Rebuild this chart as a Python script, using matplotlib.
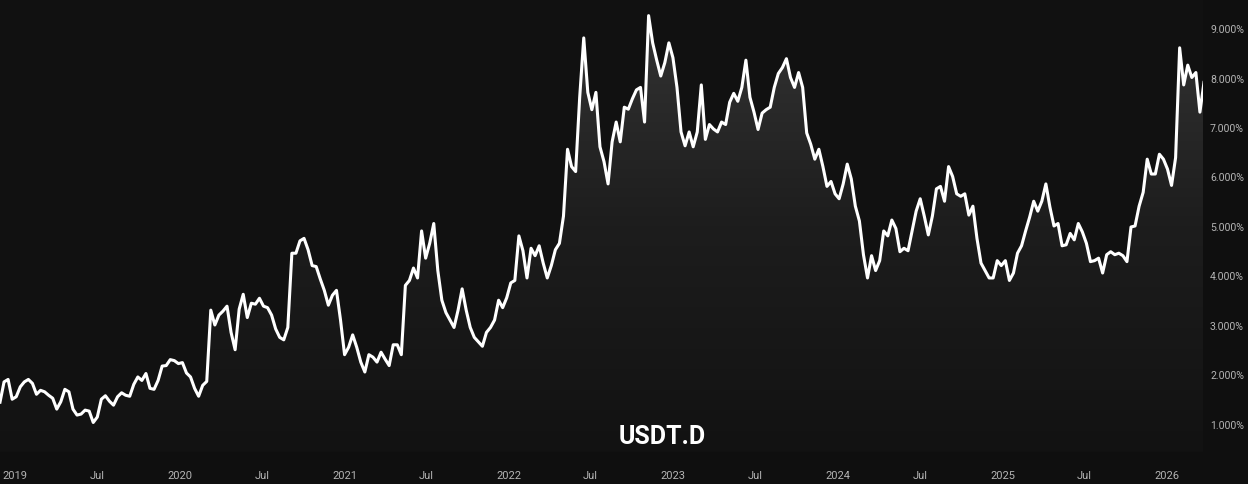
import numpy as np
import pandas as pd
import matplotlib
matplotlib.use("Agg")
import matplotlib.pyplot as plt
import matplotlib.dates as mdates
from matplotlib.colors import LinearSegmentedColormap
from matplotlib.ticker import FixedLocator, FuncFormatter

# USDT dominance (%), one reading every 9 days from 2018-11-28
start_date = "2018-11-28"
step = "9D"
usdt_d = [
    1.44, 1.85, 1.90, 1.50, 1.55, 1.75, 1.85, 1.90, 1.82, 1.60,
    1.68, 1.65, 1.58, 1.52, 1.30, 1.45, 1.70, 1.65, 1.30, 1.18,
    1.20, 1.28, 1.26, 1.03, 1.14, 1.50, 1.57, 1.46, 1.38, 1.55,
    1.63, 1.58, 1.56, 1.80, 1.95, 1.88, 2.02, 1.72, 1.70, 1.88,
    2.17, 2.18, 2.30, 2.28, 2.22, 2.24, 2.03, 1.95, 1.72, 1.56,
    1.78, 1.86, 3.30, 3.00, 3.20, 3.28, 3.38, 2.85, 2.50, 3.32,
    3.62, 3.15, 3.44, 3.42, 3.54, 3.38, 3.35, 3.20, 2.92, 2.75,
    2.70, 2.95, 4.45, 4.45, 4.70, 4.75, 4.52, 4.20, 4.18, 3.93,
    3.70, 3.40, 3.60, 3.70, 3.10, 2.40, 2.55, 2.80, 2.55, 2.25,
    2.05, 2.40, 2.35, 2.25, 2.45, 2.31, 2.18, 2.60, 2.60, 2.40,
    3.80, 3.90, 4.15, 3.95, 4.90, 4.35, 4.65, 5.05, 4.10, 3.50,
    3.25, 3.10, 2.95, 3.30, 3.73, 3.30, 2.95, 2.75, 2.66, 2.57,
    2.85, 2.95, 3.10, 3.50, 3.35, 3.55, 3.85, 3.90, 4.80, 4.50,
    3.95, 4.55, 4.40, 4.60, 4.25, 3.95, 4.20, 4.52, 4.65, 5.20,
    6.55, 6.20, 6.10, 7.60, 8.80, 7.70, 7.35, 7.70, 6.60, 6.30,
    5.85, 6.70, 7.10, 6.70, 7.40, 7.36, 7.57, 7.75, 7.80, 7.10,
    9.25, 8.70, 8.35, 8.03, 8.30, 8.70, 8.40, 7.80, 6.90, 6.62,
    6.90, 6.60, 6.90, 7.85, 6.75, 7.05, 6.96, 6.90, 7.10, 7.05,
    7.50, 7.68, 7.52, 7.80, 8.35, 7.60, 7.30, 6.95, 7.28, 7.35,
    7.40, 7.80, 8.08, 8.20, 8.38, 8.00, 7.80, 8.10, 7.80, 6.88,
    6.65, 6.35, 6.55, 6.20, 5.80, 5.90, 5.65, 5.55, 5.85, 6.25,
    5.95, 5.40, 5.10, 4.42, 3.95, 4.40, 4.10, 4.30, 4.90, 4.80,
    5.12, 4.95, 4.48, 4.55, 4.50, 4.90, 5.30, 5.55, 5.20, 4.82,
    5.20, 5.75, 5.80, 5.50, 6.20, 6.00, 5.65, 5.60, 5.65, 5.22,
    5.40, 4.75, 4.25, 4.10, 3.95, 3.95, 4.30, 4.20, 4.30, 3.90,
    4.05, 4.45, 4.60, 4.90, 5.18, 5.50, 5.30, 5.50, 5.85, 5.38,
    5.00, 5.05, 4.60, 4.62, 4.85, 4.72, 5.05, 4.88, 4.65, 4.28,
    4.30, 4.35, 4.05, 4.42, 4.48, 4.42, 4.45, 4.40, 4.28, 4.98,
    5.00, 5.40, 5.68, 6.35, 6.05, 6.05, 6.45, 6.35, 6.15, 5.82,
    6.38, 8.60, 7.85, 8.25, 8.00, 8.10, 7.30, 7.90,
]
dates = pd.date_range(start_date, periods=len(usdt_d), freq=step)

x_min, x_max = pd.Timestamp("2018-11-28"), pd.Timestamp("2026-03-22")
y_min, y_max = 0.434, 9.586
y_ticks = [1, 2, 3, 4, 5, 6, 7, 8, 9]
x_ticks = [pd.Timestamp(f"{yr}-{m:02d}-01") for yr in range(2019, 2027) for m in (1, 7)
           if pd.Timestamp(f"{yr}-{m:02d}-01") <= x_max]

bg = "#0f0f0f"
fig = plt.figure(figsize=(12.48, 4.85), dpi=100, facecolor=bg)
ax = fig.add_axes([0, 0.066, 0.964, 0.934])
ax.set_facecolor("#111111")

# gradient area under the line
poly = ax.fill_between(dates, usdt_d, y_min, color="none", lw=0)
cmap = LinearSegmentedColormap.from_list("fade", ["#121212", "#1d1d1d", "#353535"])
grad = np.linspace(0, 1, 256).reshape(-1, 1)
im = ax.imshow(grad, extent=[mdates.date2num(x_min), mdates.date2num(x_max), y_min, y_max],
               origin="lower", aspect="auto", cmap=cmap, zorder=1)
im.set_clip_path(poly.get_paths()[0], ax.transData)

ax.plot(dates, usdt_d, color="white", lw=2.2, zorder=3)

ax.set_xlim(x_min, x_max)
ax.set_ylim(y_min, y_max)
for s in ax.spines.values():
    s.set_visible(False)

ax.xaxis.set_major_locator(FixedLocator(mdates.date2num(x_ticks)))
ax.xaxis.set_major_formatter(FuncFormatter(
    lambda v, p: (lambda d: str(d.year) if d.month == 1 else "Jul")(mdates.num2date(v))))
ax.yaxis.tick_right()
ax.set_yticks(y_ticks)
ax.yaxis.set_major_formatter(FuncFormatter(lambda v, p: f"{v:.3f}%"))
ax.tick_params(axis="x", length=0, pad=13, colors="#b4b4b4", labelsize=8)
ax.tick_params(axis="y", length=0, pad=5, colors="#b4b4b4", labelsize=7.6)
for lab in ax.get_xticklabels() + ax.get_yticklabels():
    lab.set_family("Roboto")

fig.text(0.531, 0.099, "USDT.D", ha="center", va="center", fontsize=18,
         fontweight="bold", color="white", family="Roboto")

fig.savefig("out.png", dpi=100, facecolor=bg)
